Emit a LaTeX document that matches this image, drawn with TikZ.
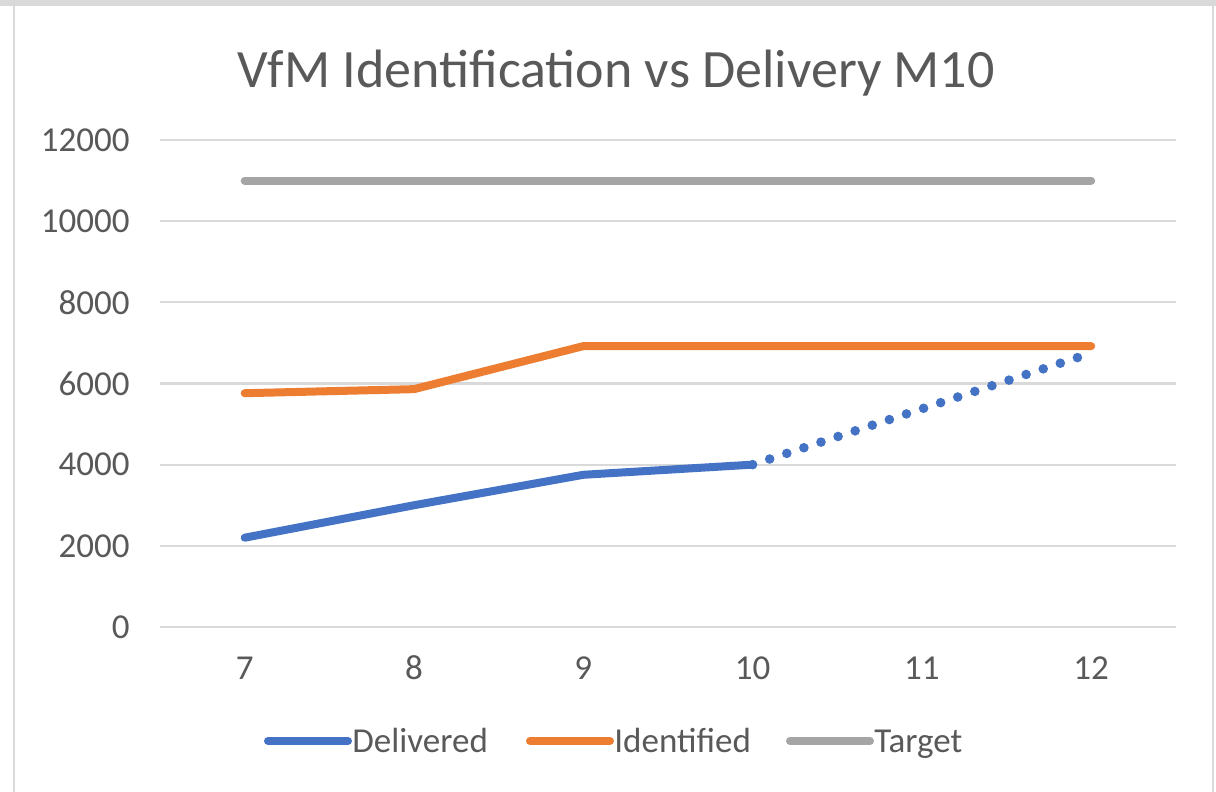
\documentclass[tikz,border=0pt]{standalone}
\usepackage{fontspec}
\setmainfont{Carlito}
\definecolor{delblue}{HTML}{4472C4}
\definecolor{idorange}{HTML}{ED7D31}
\definecolor{tgtgray}{HTML}{A5A5A5}
\definecolor{gridgray}{HTML}{D9D9D9}
\definecolor{labelgray}{HTML}{595959}

\begin{document}
\begin{tikzpicture}[x=0.5pt,y=-0.5pt,
            grid/.style={draw=gridgray, line width=1.1pt},
            series/.style={line width=4pt, line cap=round, line join=round},
            forecast/.style={line width=4.8pt, line cap=round, dash pattern=on 0pt off 9pt},
            ticklab/.style={font=\fontsize{17.5}{20}\selectfont, text=labelgray, inner sep=0pt},
            legline/.style={line width=4pt, line cap=round}
        ]
            \useasboundingbox (0,0) rectangle (1216,792);
            \fill[white] (0,0) rectangle (1216,792);
            \fill[gridgray] (0,0) rectangle (1216,6);
            \draw[gridgray, line width=1pt] (14,6) -- (14,792);
            \draw[gridgray, line width=1pt] (1213,6) -- (1213,792);
            \node[font=\fontsize{27}{32}\selectfont, text=labelgray, anchor=base] (title) at (616,88) {VfM Identification vs Delivery M10};
            % plot area: months along x, values along y
            \begin{scope}[shift={(-940.4,627)}, x=84.65pt, y=0.02029pt]
                \foreach \v in {0,2000,...,12000} {
                    \draw[grid] (6.5,\v) -- (12.5,\v);
                    \node[ticklab, anchor=east, xshift=-15pt] (ylab\v) at (6.5,\v) {\v};
                }
                \foreach \m in {7,...,12} {
                    \node[ticklab, yshift=-20.5pt] (xlab\m) at (\m,0) {\m};
                }
                \draw[series, tgtgray] (7,11000) -- (12,11000);
                \draw[series, idorange] (7,5760) -- (8,5860) -- (9,6920) -- (10,6920) -- (11,6920) -- (12,6920);
                \draw[series, delblue] (7,2200) -- (8,3000) -- (9,3750) -- (10,4000);
                \draw[forecast, delblue] (10,4000) -- (12,6750);
            \end{scope}
            \foreach \x/\col/\name/\lab in {268/delblue/legdel/Delivered,530/idorange/legid/Identified,790/tgtgray/legtgt/Target} {
                \draw[legline, \col] (\x,741) -- ++(80,0);
                \node[ticklab, anchor=base west] (\name) at (\x+84,752) {\lab};
            }
        \end{tikzpicture}
\end{document}
